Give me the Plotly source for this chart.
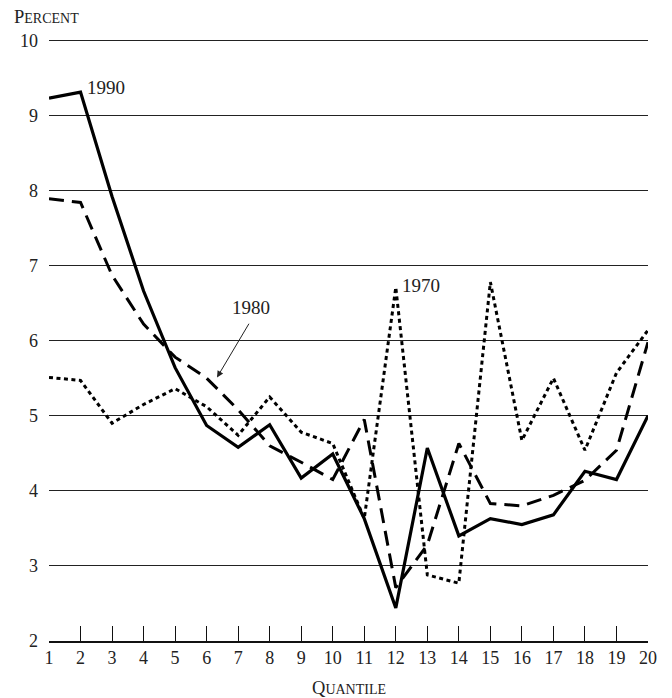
import plotly.graph_objects as go

quantiles = list(range(1, 21))
y1970 = [5.51, 5.47, 4.90, 5.15, 5.36, 5.12, 4.74, 5.25, 4.78, 4.63, 3.63, 6.71,
         2.88, 2.77, 6.78, 4.67, 5.50, 4.54, 5.57, 6.14]
y1980 = [7.89, 7.84, 6.87, 6.22, 5.78, 5.50, 5.08, 4.60, 4.38, 4.15, 4.95, 2.71,
         3.28, 4.63, 3.83, 3.80, 3.94, 4.14, 4.54, 5.98]
y1990 = [9.23, 9.31, 7.92, 6.66, 5.64, 4.87, 4.58, 4.88, 4.17, 4.49, 3.63, 2.44,
         4.57, 3.40, 3.63, 3.55, 3.68, 4.26, 4.15, 5.00]
y_ticks = [2, 3, 4, 5, 6, 7, 8, 9, 10]

FONT = "Liberation Serif"
TXT = "#222222"

fig = go.Figure()
fig.add_trace(go.Scatter(x=quantiles, y=y1970, mode="lines",
                         line=dict(color="black", width=3, dash="4px,3.5px"),
                         showlegend=False, hoverinfo="skip"))
fig.add_trace(go.Scatter(x=quantiles, y=y1980, mode="lines",
                         line=dict(color="black", width=3, dash="15px,8px"),
                         showlegend=False, hoverinfo="skip"))
fig.add_trace(go.Scatter(x=quantiles, y=y1990, mode="lines",
                         line=dict(color="black", width=3.2),
                         showlegend=False, hoverinfo="skip"))

annotations = [
    dict(x=2.14, y=9.37, text="1990", showarrow=False, xanchor="left", yanchor="middle",
         font=dict(family=FONT, size=19, color=TXT)),
    dict(x=6.75, y=6.44, text="1980", showarrow=False, xanchor="left", yanchor="middle",
         font=dict(family=FONT, size=19, color=TXT)),
    dict(x=12.12, y=6.74, text="1970", showarrow=False, xanchor="left", yanchor="middle",
         font=dict(family=FONT, size=19, color=TXT)),
    dict(x=6.33, y=5.51, ax=7.37, ay=6.245, axref="x", ayref="y", xref="x", yref="y",
         text="", showarrow=True, arrowhead=2, arrowsize=1.3, arrowwidth=1,
         arrowcolor="#222222"),
    dict(xref="paper", yref="paper", x=-0.061, y=1.034, xanchor="left", yanchor="middle",
         showarrow=False,
         text="P<span style='font-size:14px'>ERCENT</span>",
         font=dict(family=FONT, size=18.5, color=TXT)),
    dict(xref="paper", yref="paper", x=0.5, y=-0.078, xanchor="center", yanchor="middle",
         showarrow=False,
         text="Q<span style='font-size:14px'>UANTILE</span>",
         font=dict(family=FONT, size=18.5, color=TXT)),
]

fig.update_layout(
    width=664, height=690,
    margin=dict(l=38, r=24, t=30, b=57),
    paper_bgcolor="white", plot_bgcolor="white",
    annotations=annotations,
    font=dict(family=FONT, color=TXT),
)
fig.update_xaxes(
    range=[1, 20], tickmode="array", tickvals=quantiles,
    ticktext=[str(q) for q in quantiles],
    showgrid=False, zeroline=False,
    showline=True, linecolor="#111111", linewidth=1.5,
    ticks="inside", ticklen=15, tickwidth=1.2, tickcolor="#111111",
    tickfont=dict(family=FONT, size=18, color=TXT),
    fixedrange=True,
)
fig.update_yaxes(
    range=[2, 10.03], tickmode="array", tickvals=y_ticks,
    ticktext=[str(v) for v in y_ticks],
    showgrid=True, gridcolor="#222222", gridwidth=1.3,
    zeroline=False, showline=False, ticks="",
    ticklabelstandoff=10,
    tickfont=dict(family=FONT, size=18, color=TXT),
    fixedrange=True,
)

fig.write_html("out.html")
